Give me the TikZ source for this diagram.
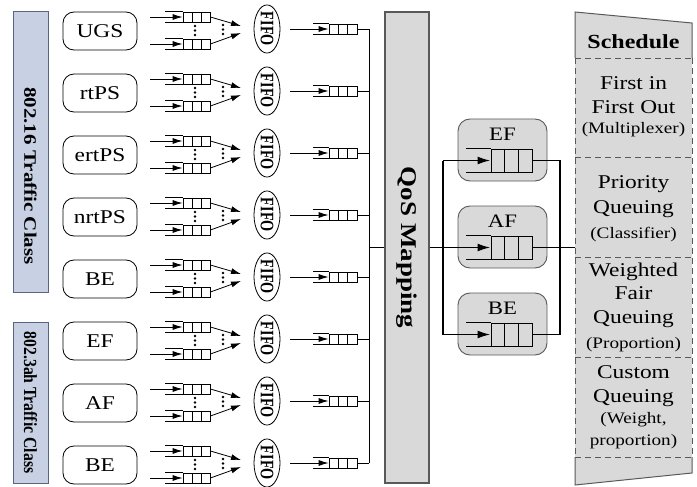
\documentclass[tikz,border=0pt]{standalone}
\usepackage{graphicx}
\usepackage{fontspec}
\setmainfont{Liberation Serif}[FakeStretch=1.2]
\newfontfamily\squeezed{Liberation Serif}[FakeStretch=0.85]
\newfontfamily\squeezedmore{Liberation Serif}[FakeStretch=0.75]
\usetikzlibrary{arrows.meta,shapes.geometric,calc}
\definecolor{boxgray}{RGB}{217,217,217}
\definecolor{edgegray}{RGB}{89,89,89}
\definecolor{classblue}{RGB}{200,208,228}
\definecolor{classedge}{RGB}{90,100,130}
\newcommand{\fsz}[1]{\fontsize{#1}{#1}\selectfont}
\tikzset{
  thinln/.style={line width=0.8pt},
  thinarr/.style={line width=0.8pt, -{Latex[length=10pt,width=6pt]}},
  thk/.style={line width=1.8pt},
  thkarr/.style={line width=1.8pt, -{Latex[length=13pt,width=8pt]}},
  qcellsplit/.style={path picture={
     \foreach \t in {0.3333,0.6667}{
       \draw[line width=0.8pt] ($(path picture bounding box.south west)!\t!(path picture bounding box.south east)$) --
                               ($(path picture bounding box.north west)!\t!(path picture bounding box.north east)$);}}},
  qsmall/.style={draw, line width=0.8pt, minimum width=27pt, minimum height=10pt, inner sep=0pt, qcellsplit},
  qbig/.style={draw, line width=1pt, minimum width=41pt, minimum height=23pt, inner sep=0pt, qcellsplit},
  clsbox/.style={draw, line width=0.8pt, rounded corners=11pt, minimum width=74pt, minimum height=38pt, inner sep=0pt, font=\fsz{19.5}},
  fifobox/.style={draw, ellipse, line width=0.8pt, minimum width=26pt, minimum height=47pt, inner sep=0pt},
  bar/.style={draw=classedge, fill=classblue, line width=1pt, minimum width=35pt, inner sep=0pt},
  graybox/.style={draw=edgegray, fill=boxgray, line width=0.9pt, rounded corners=12pt, minimum width=89pt, minimum height=62pt, inner sep=0pt},
  schtxt/.style={anchor=base, inner sep=0pt, font=\fsz{19.5}},
  schpar/.style={anchor=base, inner sep=0pt, font=\fsz{16}},
  dot/.style={fill, circle, inner sep=0pt, minimum size=2.6pt}
}
\begin{document}
\begin{tikzpicture}[x=1pt,y=-1pt]
\useasboundingbox (0,0) rectangle (697,487);

% left class bars
\node[bar, minimum height=280pt] (bar16) at (30.5,152) {};
\node[inner sep=0pt] (bar16txt) at (30.5,176) {\rotatebox{-90}{\bfseries\fsz{17.5}802.16 Traffic Class}};
\node[bar, minimum height=161pt] (bar3ah) at (30.5,402.5) {\rotatebox{-90}{\squeezed\bfseries\fsz{18.5}802.3ah Traffic Class}};

% rows
\foreach \i/\lab in {1/UGS,2/rtPS,3/ertPS,4/nrtPS,5/BE,6/EF,7/AF,8/BE}{
  \pgfmathsetmacro\cy{31+62*(\i-1)}
  \node[clsbox] (cls\i) at (100,\cy) {\lab};
  \node[qsmall] (qa\i) at (196.5,\cy-14) {};
  \node[qsmall] (qb\i) at (196.5,\cy+13) {};
  \coordinate (sa\i) at (150,\cy-14);
  \coordinate (sb\i) at (150,\cy+13);
  \draw[thinarr] (sa\i) -- (qa\i.west);
  \draw[thinarr] (sb\i) -- (qb\i.west);
  \draw[thinln] (qa\i.north west) -- ++(-18,0) (qa\i.south west) -- ++(-18,0);
  \draw[thinln] (qb\i.north west) -- ++(-18,0) (qb\i.south west) -- ++(-18,0);
  \foreach \d in {-5,-0.5,4}{
    \node[dot] at (195,\cy+\d) {};
    \node[dot] at (223,\cy+\d-1) {};
  }
  \node[fifobox] (fifo\i) at (267,\cy-2) {\rotatebox{-90}{\squeezedmore\bfseries\fsz{19}FIFO}};
  \coordinate (ca\i) at (241,\cy-5);
  \coordinate (cb\i) at (241,\cy+2);
  \draw[thinarr] (qa\i.east) -- (ca\i);
  \draw[thinarr] (qb\i.east) -- (cb\i);
  \node[qsmall, minimum width=28pt] (qo\i) at (343,\cy-2) {};
  \coordinate (fo\i) at (290,\cy-2);
  \draw[thinarr] (fo\i) -- (qo\i.west);
  \draw[thinln] (qo\i.north west) -- ++(-16,0) (qo\i.south west) -- ++(-16,0);
  \coordinate (bus\i) at (369,\cy-2);
  \draw[thinln] (qo\i.east) -- (bus\i);
}
\draw[thinln] (bus1) -- (bus8);

% QoS mapping
\node[draw=edgegray, fill=boxgray, line width=1.2pt, minimum width=44pt, minimum height=471pt, inner sep=0pt] (qos) at (407,247.5)
  {\rotatebox{-90}{\bfseries\fsz{22.5}QoS Mapping}};
\coordinate (busm) at (369,247.5);
\draw[thinln] (busm) -- (qos.west);

% gray queue boxes
\foreach \n/\yy in {EF/160.5,AF/247.5,BE/334.5}{
  \node[graybox] (box\n) at (502.5,\yy-10.5) {};
  \node[inner sep=0pt, font=\fsz{19}] (lab\n) at (502.5,\yy-26) {\n};
  \node[qbig] (q\n) at (511.5,\yy) {};
  \draw[line width=1pt] (q\n.north west) -- ++(-25,0) (q\n.south west) -- ++(-25,0);
  \coordinate (ls\n) at (443,\yy);
  \coordinate (rs\n) at (560,\yy);
}
\draw[thk] (lsEF) -- (lsBE);
\draw[thk] (qos.east) -- (lsAF);
\draw[thkarr] (lsEF) -- (qEF.west);
\draw[thkarr] (lsAF) -- (qAF.west);
\draw[thkarr] (lsBE) -- (qBE.west);
\draw[thk] (qEF.east) -- (rsEF) -- (rsBE) -- (qBE.east);
\coordinate (schin) at (576,247.5);
\draw[thk] (qAF.east) -- (schin);

% schedule
\fill[boxgray] (575,12) -- (692,23) -- (692,473) -- (575,485) -- cycle;
\draw[edgegray, line width=1pt] (575,58) -- (575,12) -- (692,23) -- (692,58);
\draw[edgegray, line width=1pt] (575,457) -- (575,485) -- (692,473) -- (692,457);
\draw[edgegray, line width=0.9pt, dash pattern=on 6pt off 4pt] (575,58) -- (575,457) (692,58) -- (692,457);
\foreach \yy in {58,157,257,357,457}{
  \draw[edgegray, line width=0.9pt, dash pattern=on 6pt off 4pt] (575,\yy) -- (692,\yy);
}
\node[schtxt, font=\bfseries\fsz{20}] (s0) at (633.5,49) {Schedule};
\node[schtxt] (s1) at (633.5,89.5) {First in};
\node[schtxt] (s2) at (633.5,113.5) {First Out};
\node[schpar] (s3) at (633.5,134) {(Multiplexer)};
\node[schtxt] (s4) at (633.5,188.5) {Priority};
\node[schtxt] (s5) at (633.5,213.5) {Queuing};
\node[schpar] (s6) at (633.5,238) {(Classifier)};
\node[schtxt] (s7) at (633.5,276.5) {Weighted};
\node[schtxt] (s8) at (633.5,299.5) {Fair};
\node[schtxt] (s9) at (633.5,323.5) {Queuing};
\node[schpar] (s10) at (633.5,348) {(Proportion)};
\node[schtxt] (s11) at (633.5,378.5) {Custom};
\node[schtxt] (s12) at (633.5,402.5) {Queuing};
\node[schpar] (s13) at (633.5,423) {(Weight,};
\node[schpar] (s14) at (633.5,445) {proportion)};
\end{tikzpicture}
\end{document}
